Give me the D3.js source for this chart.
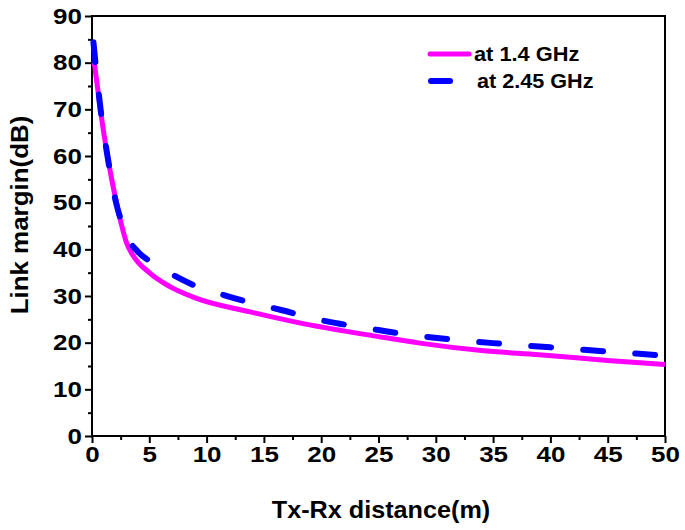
<!DOCTYPE html>
<html>
<head>
<meta charset="utf-8">
<script src="https://cdn.jsdelivr.net/npm/d3@7"></script>
<style>
  body { margin: 0; background: #fff; }
  svg { display: block; font-family: "Liberation Sans", Arial, sans-serif; }
</style>
</head>
<body>
<svg id="chart" width="685" height="530"></svg>
<script>
// ---- data ----
const dist14 = [0.2, 0.73, 1.35, 2.13, 2.6, 3.0, 3.5, 5, 6.8, 9, 13.8, 18, 25, 28.6, 34, 39, 45, 50];
const margin14 = [80, 70, 60, 50, 45, 41.5, 39, 35, 32, 29.6, 26.6, 24.3, 21.3, 19.9, 18.3, 17.4, 16.2, 15.3];
const dist245 = [0.1, 0.3, 0.75, 1.35, 2.1, 2.7, 3.0, 4.0, 5, 7, 9, 11.5, 13.5, 16.5, 20, 22, 25, 28, 31, 35, 40, 45, 50];
const margin245 = [85, 80, 70, 60, 50, 45, 43, 39.5, 37.5, 34.6, 32.2, 30.2, 28.8, 27, 24.8, 23.9, 22.7, 21.6, 20.8, 19.9, 19.0, 18.1, 17.2];
const xTicks = [0, 5, 10, 15, 20, 25, 30, 35, 40, 45, 50];
const yTicks = [0, 10, 20, 30, 40, 50, 60, 70, 80, 90];
const seriesNames = ["at 1.4 GHz", "at 2.45 GHz"];
const xTitle = "Tx-Rx distance(m)";
const yTitle = "Link margin(dB)";

// ---- layout ----
const L = 92, R = 665, T = 16, B = 436;
const svg = d3.select("#chart");
const x = d3.scaleLinear().domain([0, 50]).range([L, R]);
const y = d3.scaleLinear().domain([0, 90]).range([B, T]);

const fontTick = 22, fontTitle = 24, fontLegend = 20;

// widen glyphs a bit (reference text is rendered wider than Liberation Sans)
function widen(sel, f) {
  sel.each(function () {
    const w = this.getComputedTextLength();
    d3.select(this).attr("textLength", w * f).attr("lengthAdjust", "spacingAndGlyphs");
  });
}

// minor ticks
const xMinor = d3.range(2.5, 50, 5);
const yMinor = d3.range(5, 90, 10);

// x axis
const xAxis = svg.append("g").attr("transform", `translate(0,${B})`)
  .call(d3.axisBottom(x).tickValues(xTicks).tickSize(7).tickPadding(3).tickFormat(d3.format("d")));
xAxis.select(".domain").remove();
xAxis.selectAll(".tick line").attr("stroke", "#000").attr("stroke-width", 2);
xAxis.selectAll("text").attr("font-size", fontTick).attr("font-weight", "bold").attr("fill", "#000")
  .attr("font-family", "Liberation Sans, Arial, sans-serif");
widen(xAxis.selectAll("text"), 1.18);
svg.append("g").attr("transform", `translate(0,${B})`)
  .call(d3.axisBottom(x).tickValues(xMinor).tickSize(4).tickFormat(""))
  .call(g => g.select(".domain").remove())
  .selectAll(".tick line").attr("stroke", "#000").attr("stroke-width", 2);

// y axis
const yAxis = svg.append("g").attr("transform", `translate(${L},0)`)
  .call(d3.axisLeft(y).tickValues(yTicks).tickSize(7).tickPadding(3).tickFormat(d3.format("d")));
yAxis.select(".domain").remove();
yAxis.selectAll(".tick line").attr("stroke", "#000").attr("stroke-width", 2);
yAxis.selectAll("text").attr("font-size", fontTick).attr("font-weight", "bold").attr("fill", "#000")
  .attr("font-family", "Liberation Sans, Arial, sans-serif");
widen(yAxis.selectAll("text"), 1.18);
svg.append("g").attr("transform", `translate(${L},0)`)
  .call(d3.axisLeft(y).tickValues(yMinor).tickSize(4).tickFormat(""))
  .call(g => g.select(".domain").remove())
  .selectAll(".tick line").attr("stroke", "#000").attr("stroke-width", 2);

// frame
svg.append("rect").attr("x", L).attr("y", T).attr("width", R - L).attr("height", B - T)
  .attr("fill", "none").attr("stroke", "#000").attr("stroke-width", 2);

// lines
const line = d3.line().x(d => x(d[0])).y(d => y(d[1])).curve(d3.curveMonotoneX);
const data14 = dist14.map((d, i) => [d, margin14[i]]);
const data245 = dist245.map((d, i) => [d, margin245[i]]);

svg.append("path").datum(data14).attr("d", line)
  .attr("fill", "none").attr("stroke", "#ff00ff").attr("stroke-width", 5);
const bluePath = svg.append("path").datum(data245).attr("d", line)
  .attr("fill", "none").attr("stroke", "#0000ff").attr("stroke-width", 6)
  .attr("stroke-linecap", "round");

// dash period chosen so a dash starts at the path start and another near x = 20 m
(function () {
  const node = bluePath.node();
  const total = node.getTotalLength();
  const targetX = x(20.0) + 3;
  let lo = 0, hi = total;
  for (let i = 0; i < 40; i++) {
    const mid = (lo + hi) / 2;
    if (node.getPointAtLength(mid).x < targetX) lo = mid; else hi = mid;
  }
  const n = Math.max(1, Math.round((lo - 3) / 50));
  const period = (lo - 3) / n;
  const dash = period * 0.38;
  bluePath.attr("stroke-dasharray", `${dash},${period - dash}`).attr("stroke-dashoffset", -3);
})();

// legend
const lg = svg.append("g");
lg.append("line").attr("x1", 430).attr("x2", 469).attr("y1", 54).attr("y2", 54)
  .attr("stroke", "#ff00ff").attr("stroke-width", 5).attr("stroke-linecap", "round");
const lt1 = lg.append("text").attr("x", 474).attr("y", 54).attr("dy", "0.35em")
  .attr("font-size", fontLegend).attr("font-weight", "bold").text(seriesNames[0]);
lg.append("line").attr("x1", 431).attr("x2", 450).attr("y1", 81).attr("y2", 81)
  .attr("stroke", "#0000ff").attr("stroke-width", 6).attr("stroke-linecap", "round");
const lt2 = lg.append("text").attr("x", 477).attr("y", 81).attr("dy", "0.35em")
  .attr("font-size", fontLegend).attr("font-weight", "bold").text(seriesNames[1]);
widen(lt1, 1.09);
widen(lt2, 1.08);

// titles
const xt = svg.append("text").attr("x", 381).attr("y", 518).attr("text-anchor", "middle")
  .attr("font-size", fontTitle).attr("font-weight", "bold").text(xTitle);
widen(xt, 1.05);
const yt = svg.append("text").attr("transform", `translate(28,215) rotate(-90)`)
  .attr("text-anchor", "middle")
  .attr("font-size", fontTitle).attr("font-weight", "bold").text(yTitle);
widen(yt, 1.08);
</script>
</body>
</html>
